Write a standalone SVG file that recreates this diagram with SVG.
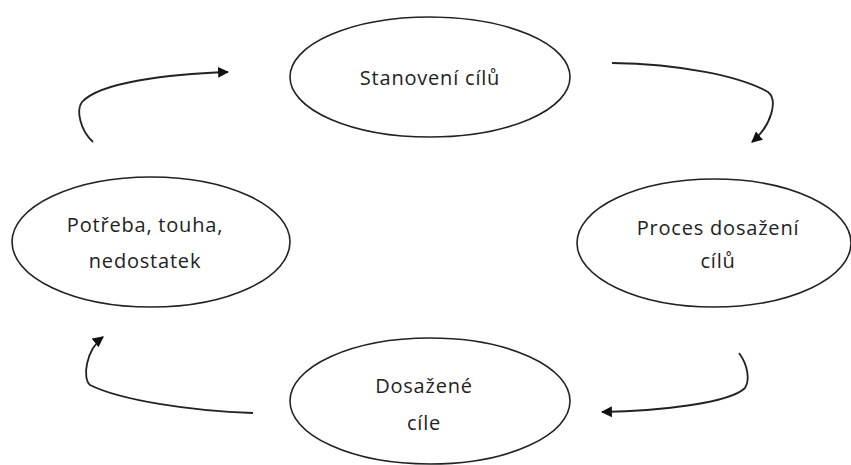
<svg xmlns="http://www.w3.org/2000/svg" width="851" height="465" viewBox="0 0 851 465">
<defs>
<marker id="ah" viewBox="0 0 10 10" refX="9" refY="5" markerWidth="11" markerHeight="11" markerUnits="userSpaceOnUse" orient="auto">
<path d="M0,0 L10,5 L0,10 z" fill="#111"/>
</marker>
<style>
.node ellipse{fill:#fff;stroke:#222;stroke-width:1.6}
.node text{font-family:"Open Sans","Liberation Sans",sans-serif;font-size:20px;letter-spacing:0.8px;fill:#222;text-anchor:middle}
.conn path{fill:none;stroke:#222;stroke-width:1.8;marker-end:url(#ah)}
</style>
</defs>
<rect width="851" height="465" fill="#fff"/>
<g id="n-stanoveni" class="node">
<ellipse cx="430" cy="77" rx="140" ry="60"/>
<text x="430" y="85">Stanovení cílů</text>
</g>
<g id="n-proces" class="node">
<ellipse cx="714" cy="243" rx="137" ry="64"/>
<text x="718" y="235">Proces dosažení</text>
<text x="718" y="268">cílů</text>
</g>
<g id="n-dosazene" class="node">
<ellipse cx="430" cy="401" rx="140" ry="63"/>
<text x="424" y="393">Dosažené</text>
<text x="424" y="430">cíle</text>
</g>
<g id="n-potreba" class="node">
<ellipse cx="151" cy="242" rx="139" ry="65"/>
<text x="145" y="232">Potřeba, touha,</text>
<text x="145" y="268">nedostatek</text>
</g>
<g id="connectors" class="conn">
<path d="M612,63 C680,64 740,76 768,92 C778,100 772,125 752,142"/>
<path d="M739,353 C748,365 750,380 745,388 C730,403 660,411 602,412"/>
<path d="M253,413 C190,411 120,400 90,385 C82,378 86,350 103,337"/>
<path d="M93,142 C80,130 76,110 82,102 C100,82 170,74 228,72"/>
</g>
</svg>
